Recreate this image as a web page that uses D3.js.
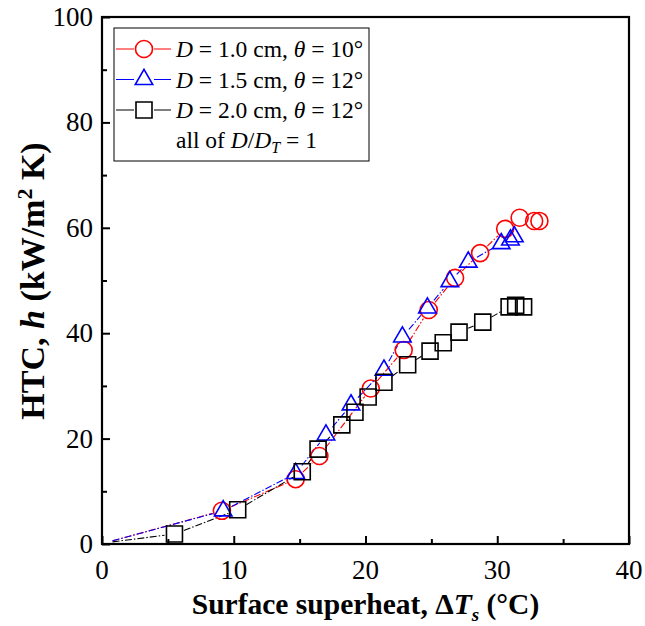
<!DOCTYPE html>
<html>
<head>
<meta charset="utf-8">
<script src="https://cdn.jsdelivr.net/npm/d3@7"></script>
<style>
  html, body { margin: 0; padding: 0; background: #fff; }
  svg text { font-family: 'Liberation Serif', 'Times New Roman', serif; }
</style>
</head>
<body>
<svg id="chart" width="645" height="626"></svg>
<script>
// ── Data ──────────────────────────────────────────────────
// D = 1.0 cm, theta = 10 deg
const xD10 = [0.8, 9.1, 14.7, 16.5, 20.4, 22.9, 24.8, 26.8, 28.7, 30.6, 31.7, 32.8, 33.2];
const yD10 = [0.6, 6.3, 12.3, 16.7, 29.5, 36.8, 44.4, 50.5, 55.2, 59.8, 61.9, 61.3, 61.3];
// D = 1.5 cm, theta = 12 deg
const xD15 = [0.8, 9.2, 14.7, 17.0, 18.9, 21.4, 22.8, 24.7, 26.4, 27.8, 30.3, 31.0, 31.3];
const yD15 = [0.6, 6.3, 13.4, 20.7, 26.4, 33.0, 39.3, 44.8, 49.8, 53.5, 57.0, 57.7, 58.3];
// D = 2.0 cm, theta = 12 deg
const xD20 = [0.8, 5.5, 10.3, 15.2, 16.4, 18.2, 19.2, 20.2, 21.4, 23.2, 24.9, 25.9, 27.1, 28.9, 30.9, 31.4, 32.0];
const yD20 = [0.4, 1.9, 6.5, 13.7, 18.0, 22.6, 25.0, 27.9, 30.7, 34.0, 36.6, 38.2, 40.2, 42.1, 45.0, 45.3, 45.0];

const xTicks = [0, 10, 20, 30, 40];
const yTicks = [0, 20, 40, 60, 80, 100];

const series = [
  { name: 'D10', xs: xD10, ys: yD10, color: '#ff0000', shape: 'circle',   label: ['1.0', '10°'] },
  { name: 'D15', xs: xD15, ys: yD15, color: '#0000ff', shape: 'triangle', label: ['1.5', '12°'] },
  { name: 'D20', xs: xD20, ys: yD20, color: '#000000', shape: 'square',   label: ['2.0', '12°'] },
];

// ── Layout ────────────────────────────────────────────────
const margin = { left: 102, top: 17, right: 629, bottom: 544 };
const svg = d3.select('#chart');

const x = d3.scaleLinear().domain([0, 40]).range([margin.left, margin.right]);
const y = d3.scaleLinear().domain([0, 100]).range([margin.bottom, margin.top]);

// marker path generators (centred at 0,0)
function markerPath(shape) {
  if (shape === 'circle') return d3.symbol(d3.symbolCircle, 227)();
  if (shape === 'triangle') {
    const s = 17.5, h = s * Math.sqrt(3) / 2;
    return `M0,${-h * 2 / 3}L${s / 2},${h / 3}L${-s / 2},${h / 3}Z`;
  }
  return 'M-8,-8H8V8H-8Z';
}

// ── Data lines (gapped around markers) ────────────────────
const lines = svg.append('g');
series.forEach(s => {
  const pts = s.xs.map((v, i) => [x(v), y(s.ys[i])]);
  for (let i = 0; i < pts.length - 1; i++) {
    const [x1, y1] = pts[i], [x2, y2] = pts[i + 1];
    const len = Math.hypot(x2 - x1, y2 - y1);
    const g1 = i === 0 ? 0 : 10, g2 = 10;
    if (len <= g1 + g2) continue;
    const ux = (x2 - x1) / len, uy = (y2 - y1) / len;
    lines.append('line')
      .attr('x1', x1 + ux * g1).attr('y1', y1 + uy * g1)
      .attr('x2', x2 - ux * g2).attr('y2', y2 - uy * g2)
      .attr('stroke', s.color)
      .attr('stroke-width', 1.1)
      .attr('stroke-dasharray', '7,2,1.5,2');
  }
});

// ── Markers (first point is a line anchor only) ───────────
series.forEach(s => {
  svg.append('g').selectAll('path')
    .data(s.xs.slice(1).map((v, i) => [v, s.ys[i + 1]]))
    .join('path')
    .attr('d', markerPath(s.shape))
    .attr('transform', d => `translate(${x(d[0])},${y(d[1])})`)
    .attr('fill', 'none')
    .attr('stroke', s.color)
    .attr('stroke-width', 1.6);
});

// ── Axes ──────────────────────────────────────────────────
const xAxis = d3.axisBottom(x).tickValues(d3.range(0, 41, 5)).tickSize(-8).tickFormat('');
const yAxis = d3.axisLeft(y).tickValues(d3.range(0, 101, 10)).tickSize(-8).tickFormat('');

const gx = svg.append('g').attr('transform', `translate(0,${margin.bottom})`).call(xAxis);
const gy = svg.append('g').attr('transform', `translate(${margin.left},0)`).call(yAxis);
[gx, gy].forEach(g => {
  g.select('.domain').remove();
  g.selectAll('.tick line').attr('stroke', '#000').attr('stroke-width', 2);
});
gx.selectAll('.tick line').attr('y2', d => d % 10 === 0 ? -8 : -5);
gy.selectAll('.tick line').attr('x2', d => d % 20 === 0 ? 8 : 5);

// frame
svg.append('rect')
  .attr('x', margin.left).attr('y', margin.top)
  .attr('width', margin.right - margin.left)
  .attr('height', margin.bottom - margin.top)
  .attr('fill', 'none').attr('stroke', '#000').attr('stroke-width', 2.2);

// tick labels
svg.append('g').selectAll('text').data(xTicks).join('text')
  .attr('x', d => x(d)).attr('y', 579)
  .attr('text-anchor', 'middle').attr('font-size', 27)
  .text(d => d);
svg.append('g').selectAll('text').data(yTicks).join('text')
  .attr('x', margin.left - 9).attr('y', d => y(d) + 9)
  .attr('text-anchor', 'end').attr('font-size', 27)
  .text(d => d);

// axis titles
const xt = svg.append('text')
  .attr('x', x(20)).attr('y', 614)
  .attr('text-anchor', 'middle').attr('font-size', 29.5).attr('font-weight', 'bold');
xt.append('tspan').text('Surface superheat, Δ');
xt.append('tspan').attr('font-style', 'italic').text('T');
xt.append('tspan').attr('font-style', 'italic').attr('font-size', 19).attr('dy', 7).text('s');
xt.append('tspan').attr('dy', -7).text(' (°C)');

const yt = svg.append('text')
  .attr('transform', `translate(44,281) rotate(-90)`)
  .attr('text-anchor', 'middle').attr('font-size', 34).attr('font-weight', 'bold');
yt.append('tspan').text('HTC, ');
yt.append('tspan').attr('font-style', 'italic').text('h');
yt.append('tspan').text(' (kW/m');
yt.append('tspan').attr('font-size', 22).attr('dy', -12).text('2');
yt.append('tspan').attr('dy', 12).text(' K)');

// ── Legend ────────────────────────────────────────────────
const legend = svg.append('g');
legend.append('rect')
  .attr('x', 114).attr('y', 28).attr('width', 255).attr('height', 133)
  .attr('fill', '#fff').attr('stroke', '#000').attr('stroke-width', 1);

series.forEach((s, i) => {
  const cy = 49 + i * 30.5;
  legend.append('line').attr('x1', 116).attr('x2', 134).attr('y1', cy).attr('y2', cy)
    .attr('stroke', s.color).attr('stroke-width', 1);
  legend.append('line').attr('x1', 154).attr('x2', 171).attr('y1', cy).attr('y2', cy)
    .attr('stroke', s.color).attr('stroke-width', 1);
  legend.append('path').attr('d', markerPath(s.shape))
    .attr('transform', `translate(144,${cy})`)
    .attr('fill', 'none').attr('stroke', s.color).attr('stroke-width', 1.6);
  const t = legend.append('text').attr('x', 176).attr('y', cy + 8).attr('font-size', 23.5);
  t.append('tspan').attr('font-style', 'italic').text('D');
  t.append('tspan').text(` = ${s.label[0]} cm, `);
  t.append('tspan').attr('font-style', 'italic').text('θ');
  t.append('tspan').text(` = ${s.label[1]}`);
});
const t4 = legend.append('text').attr('x', 176).attr('y', 148).attr('font-size', 23.5);
t4.append('tspan').text('all of ');
t4.append('tspan').attr('font-style', 'italic').text('D');
t4.append('tspan').text('/');
t4.append('tspan').attr('font-style', 'italic').text('D');
t4.append('tspan').attr('font-style', 'italic').attr('font-size', 16).attr('dy', 5).text('T');
t4.append('tspan').attr('dy', -5).text(' = 1');
</script>
</body>
</html>
